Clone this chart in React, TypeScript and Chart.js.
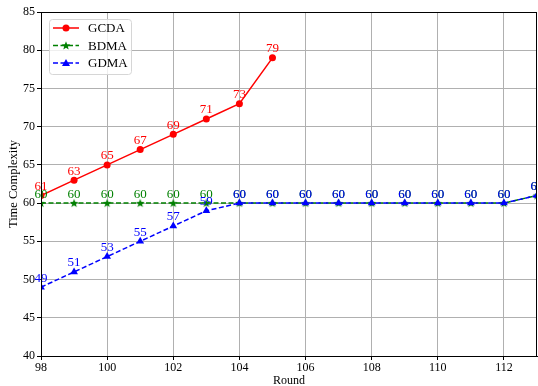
import React, { useEffect, useRef } from "react";
import { Chart, registerables } from "chart.js";

Chart.register(...registerables);

const rounds = [98, 99, 100, 101, 102, 103, 104, 105, 106, 107, 108, 109, 110, 111, 112, 113];
const gcdaRounds = [98, 99, 100, 101, 102, 103, 104, 105];
const gcdaValues = [61, 63, 65, 67, 69, 71, 73, 79];
const bdmaValues = [60, 60, 60, 60, 60, 60, 60, 60, 60, 60, 60, 60, 60, 60, 60, 61];
const gdmaValues = [49, 51, 53, 55, 57, 59, 60, 60, 60, 60, 60, 60, 60, 60, 60, 61];
const xTicks = [98, 100, 102, 104, 106, 108, 110, 112];

const FONT = "'Liberation Serif', 'DejaVu Serif', serif";

function drawStar(ctx: CanvasRenderingContext2D, cx: number, cy: number, r: number, color: string) {
  ctx.save();
  ctx.beginPath();
  for (let i = 0; i < 10; i++) {
    const rad = i % 2 === 0 ? r : r * 0.42;
    const a = -Math.PI / 2 + (i * Math.PI) / 5;
    const x = cx + rad * Math.cos(a);
    const y = cy + rad * Math.sin(a);
    if (i === 0) ctx.moveTo(x, y);
    else ctx.lineTo(x, y);
  }
  ctx.closePath();
  ctx.fillStyle = color;
  ctx.fill();
  ctx.restore();
}

function makeStarImage(color: string) {
  const c = document.createElement("canvas");
  c.width = 10;
  c.height = 10;
  const ctx = c.getContext("2d")!;
  drawStar(ctx, 5, 5.3, 4.6, color);
  return c;
}

export default function App() {
  const ref = useRef<HTMLCanvasElement>(null);

  useEffect(() => {
    document.body.style.margin = "0";
    const canvas = ref.current!;
    const starImg = makeStarImage("green");

    const frame = {
      id: "frame",
      afterDraw(chart: any) {
        const { ctx, chartArea: a } = chart;
        ctx.save();
        ctx.strokeStyle = "#000";
        ctx.lineWidth = 1;
        ctx.strokeRect(a.left + 0.5, a.top + 0.5, a.right - a.left - 1, a.bottom - a.top);
        ctx.restore();
      },
    };

    const labels = {
      id: "valueLabels",
      afterDatasetsDraw(chart: any) {
        const { ctx } = chart;
        ctx.save();
        ctx.font = `13px ${FONT}`;
        ctx.textAlign = "center";
        ctx.textBaseline = "middle";
        chart.data.datasets.forEach((ds: any, i: number) => {
          const meta = chart.getDatasetMeta(i);
          ctx.fillStyle = ds.borderColor;
          meta.data.forEach((pt: any, j: number) => {
            const v = ds.data[j].y;
            ctx.fillText(String(v), pt.x, pt.y - 9);
          });
        });
        ctx.restore();
      },
    };

    const legend = {
      id: "customLegend",
      afterDraw(chart: any) {
        const { ctx } = chart;
        const x0 = 49, y0 = 19, w = 82, h = 55;
        ctx.save();
        ctx.fillStyle = "rgba(255,255,255,0.8)";
        ctx.strokeStyle = "#d6d6d6";
        ctx.lineWidth = 1;
        ctx.beginPath();
        (ctx as any).roundRect(x0 + 0.5, y0 + 0.5, w, h, 3);
        ctx.fill();
        ctx.stroke();
        ctx.font = `13px ${FONT}`;
        ctx.textBaseline = "middle";
        ctx.textAlign = "left";
        chart.data.datasets.forEach((ds: any, i: number) => {
          const y = 28 + i * 17.5;
          ctx.strokeStyle = ds.borderColor;
          ctx.lineWidth = 1.5;
          ctx.setLineDash(ds.borderDash || []);
          ctx.beginPath();
          ctx.moveTo(53, y);
          ctx.lineTo(79, y);
          ctx.stroke();
          ctx.setLineDash([]);
          ctx.fillStyle = ds.borderColor;
          if (ds.pointStyle === "circle") {
            ctx.beginPath();
            ctx.arc(66, y, 3.5, 0, Math.PI * 2);
            ctx.fill();
          } else if (ds.pointStyle === "triangle") {
            ctx.beginPath();
            ctx.moveTo(66, y - 4);
            ctx.lineTo(70, y + 3);
            ctx.lineTo(62, y + 3);
            ctx.closePath();
            ctx.fill();
          } else {
            drawStar(ctx, 66, y + 0.3, 4.6, ds.borderColor);
          }
          ctx.fillStyle = "#000";
          ctx.fillText(ds.label, 88, y + 1);
        });
        ctx.restore();
      },
    };

    const chart = new Chart(canvas, {
      type: "line",
      data: {
        datasets: [
          {
            label: "GCDA",
            data: gcdaRounds.map((r, i) => ({ x: r, y: gcdaValues[i] })),
            borderColor: "red",
            backgroundColor: "red",
            borderWidth: 1.5,
            pointStyle: "circle",
            pointRadius: 3.5,
            pointBorderWidth: 0,
            order: 2,
          },
          {
            label: "BDMA",
            data: rounds.map((r, i) => ({ x: r, y: bdmaValues[i] })),
            borderColor: "green",
            backgroundColor: "green",
            borderWidth: 1.5,
            borderDash: [5, 2.5],
            pointStyle: starImg as any,
            pointRadius: 4,
            order: 1,
          },
          {
            label: "GDMA",
            data: rounds.map((r, i) => ({ x: r, y: gdmaValues[i] })),
            borderColor: "blue",
            backgroundColor: "blue",
            borderWidth: 1.5,
            borderDash: [5, 2.5],
            pointStyle: "triangle",
            pointRadius: 4.5,
            pointBorderWidth: 0,
            order: 0,
          },
        ] as any,
      },
      options: {
        animation: false,
        responsive: false,
        devicePixelRatio: 1,
        layout: { autoPadding: false, padding: { top: 12, right: 1, left: 0, bottom: 0 } },
        plugins: { legend: { display: false }, tooltip: { enabled: false } },
        scales: {
          x: {
            type: "linear",
            min: 98,
            max: 113,
            afterBuildTicks: (axis: any) => {
              axis.ticks = xTicks.map((v) => ({ value: v }));
            },
            afterFit: (axis: any) => {
              axis.height = 30;
              axis.paddingRight = 0;
              axis.paddingLeft = 0;
            },
            grid: { color: "#b0b0b0", lineWidth: 1, tickColor: "#000", tickLength: 4 },
            border: { color: "#000", width: 1 },
            ticks: { color: "#000", font: { family: FONT, size: 12 }, padding: 1, maxRotation: 0 },
            title: {
              display: true,
              text: "Round",
              color: "#000",
              font: { family: FONT, size: 12 },
              padding: { top: 0, bottom: -2 },
            },
          },
          y: {
            type: "linear",
            min: 40,
            max: 85,
            ticks: { stepSize: 5, color: "#000", font: { family: FONT, size: 12 }, padding: 2 },
            afterFit: (axis: any) => {
              axis.width = 41;
              axis.paddingTop = 0;
              axis.paddingBottom = 0;
            },
            grid: { color: "#b0b0b0", lineWidth: 1, tickColor: "#000", tickLength: 4 },
            border: { color: "#000", width: 1 },
            title: {
              display: true,
              text: "Time Complexity",
              color: "#000",
              font: { family: FONT, size: 12.5 },
              padding: { top: 6, bottom: 0 },
            },
          },
        },
      } as any,
      plugins: [frame, labels, legend],
    });
    return () => chart.destroy();
  }, []);

  return (
    <div style={{ width: 538, height: 386 }}>
      <canvas ref={ref} width={538} height={386} style={{ width: 538, height: 386, display: "block" }} />
    </div>
  );
}
